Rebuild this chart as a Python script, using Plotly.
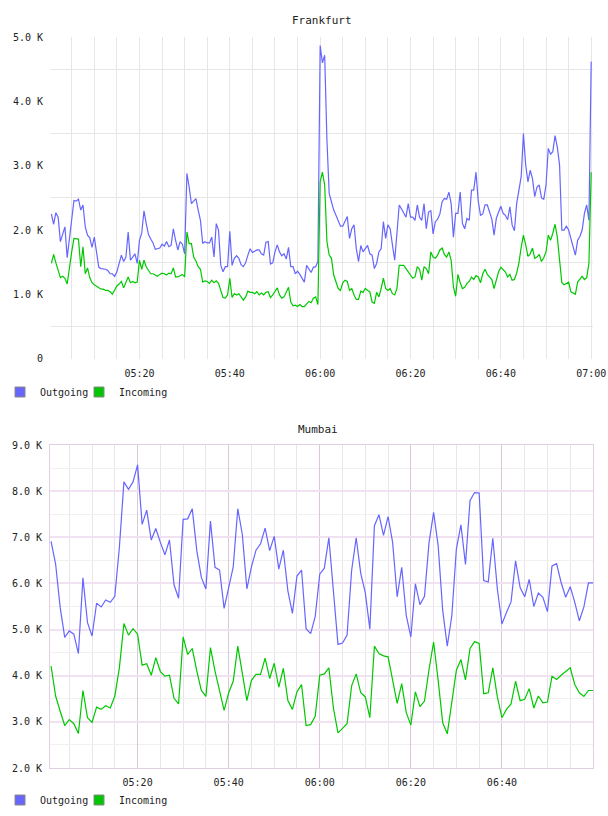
import plotly.graph_objects as go
import pandas as pd

# ---------------- data (values in K) ----------------
fra_out_k = [
    2.25, 2.09, 2.27, 2.20, 1.82, 1.92, 2.05, 1.57, 1.87, 2.20,
    2.46, 2.45, 2.48, 2.31, 2.39, 2.05, 1.92, 1.88, 1.73, 1.89,
    1.61, 1.42, 1.40, 1.40, 1.39, 1.37, 1.32, 1.32, 1.28, 1.35,
    1.50, 1.61, 1.51, 1.58, 1.97, 1.53, 1.58, 1.63, 1.48, 1.84,
    1.95, 2.30, 2.10, 1.93, 1.86, 1.80, 1.70, 1.71, 1.72, 1.78,
    1.75, 1.82, 1.74, 1.76, 2.02, 1.84, 1.69, 1.82, 1.78, 1.63,
    2.88, 2.67, 2.41, 2.45, 2.49, 2.31, 2.15, 1.79, 1.82, 1.80,
    1.80, 1.89, 1.58, 2.10, 2.00, 1.45, 1.35, 1.43, 1.43, 1.98,
    1.45, 1.56, 1.60, 1.56, 1.46, 1.43, 1.49, 1.61, 1.71, 1.65,
    1.67, 1.69, 1.69, 1.63, 1.61, 1.81, 1.82, 1.47, 1.49, 1.66,
    1.77, 1.66, 1.60, 1.63, 1.55, 1.73, 1.43, 1.43, 1.32, 1.36,
    1.31, 1.26, 1.19, 1.45, 1.40, 1.34, 1.42, 1.43, 1.51, 4.87,
    4.60, 4.72, 3.40, 2.57, 2.44, 2.31, 2.23, 2.13, 2.06, 2.06,
    2.14, 2.21, 1.87, 2.02, 2.08, 1.71, 1.51, 1.76, 1.66, 1.71,
    1.76, 1.63, 1.61, 1.40, 1.48, 1.66, 1.71, 2.13, 1.87, 2.08,
    2.02, 1.77, 1.53, 1.95, 2.39, 2.33, 2.26, 2.20, 2.41, 2.20,
    2.20, 2.15, 2.39, 2.20, 2.15, 2.41, 2.02, 2.28, 2.30, 1.94,
    2.13, 2.17, 2.25, 2.44, 2.49, 2.48, 2.59, 2.41, 1.89, 2.26,
    2.26, 2.59, 2.10, 2.02, 2.18, 2.15, 2.62, 2.62, 2.90, 2.45,
    2.23, 2.25, 2.39, 2.39, 2.28, 2.17, 1.92, 2.18, 2.28, 2.37,
    2.26, 2.23, 2.16, 2.36, 2.08, 1.99, 2.41, 2.65, 2.83, 3.50,
    3.01, 2.75, 2.93, 2.80, 2.52, 2.67, 2.70, 2.50, 2.48, 2.70,
    3.27, 3.18, 3.22, 3.47, 3.29, 3.01, 2.00, 2.00, 2.06, 2.00,
    1.88, 1.76, 1.61, 1.84, 1.90, 2.00, 2.26, 2.39, 2.15, 4.62,
]
fra_in_k = [
    1.48, 1.62, 1.49, 1.36, 1.26, 1.28, 1.25, 1.16, 1.43, 1.66,
    1.87, 1.87, 1.86, 1.43, 1.74, 1.32, 1.41, 1.26, 1.18, 1.15,
    1.13, 1.11, 1.08, 1.08, 1.06, 1.06, 1.04, 1.00, 1.06, 1.13,
    1.16, 1.20, 1.10, 1.18, 1.27, 1.18, 1.20, 1.18, 1.19, 1.53,
    1.39, 1.53, 1.43, 1.37, 1.32, 1.32, 1.30, 1.28, 1.31, 1.33,
    1.32, 1.30, 1.33, 1.32, 1.41, 1.27, 1.27, 1.29, 1.31, 1.27,
    1.97, 1.79, 1.79, 1.58, 1.52, 1.43, 1.39, 1.19, 1.21, 1.20,
    1.17, 1.22, 1.18, 1.21, 1.17, 1.06, 0.95, 0.94, 0.99, 1.25,
    0.95, 1.01, 0.99, 1.01, 0.96, 0.91, 0.96, 1.05, 1.03, 1.03,
    1.01, 1.04, 0.99, 1.02, 0.99, 1.03, 1.04, 0.95, 0.99, 1.05,
    1.10, 0.99, 0.94, 0.96, 1.05, 1.11, 0.88, 0.82, 0.83, 0.81,
    0.84, 0.81, 0.81, 0.86, 0.89, 0.87, 0.94, 0.96, 0.84, 2.75,
    2.90, 2.70, 1.82, 1.61, 1.56, 1.30, 1.18, 1.09, 1.06, 1.18,
    1.22, 1.20, 1.06, 1.09, 0.99, 0.92, 0.92, 1.05, 1.03, 1.09,
    1.06, 1.04, 0.88, 0.86, 1.03, 0.96, 1.09, 1.25, 1.09, 1.06,
    1.09, 1.01, 0.99, 1.09, 1.45, 1.45, 1.45, 1.40, 1.35, 1.32,
    1.25, 1.27, 1.43, 1.39, 1.22, 1.43, 1.40, 1.32, 1.66, 1.58,
    1.56, 1.61, 1.69, 1.72, 1.62, 1.58, 1.66, 1.53, 1.12, 0.97,
    1.31, 1.18, 1.09, 1.11, 1.17, 1.20, 1.27, 1.23, 1.29, 1.27,
    1.18, 1.32, 1.39, 1.31, 1.27, 1.23, 1.09, 1.23, 1.35, 1.42,
    1.39, 1.35, 1.27, 1.31, 1.22, 1.23, 1.33, 1.49, 1.73, 1.92,
    1.77, 1.59, 1.63, 1.72, 1.56, 1.58, 1.62, 1.51, 1.57, 1.66,
    1.92, 1.84, 1.95, 2.09, 1.89, 1.53, 1.18, 1.15, 1.17, 1.19,
    1.04, 1.02, 1.00, 1.19, 1.23, 1.28, 1.23, 1.26, 1.48, 2.90,
]
mum_out_k = [
    6.91, 6.42, 5.48, 4.83, 4.97, 4.90, 4.48, 6.12, 5.15, 4.86,
    5.57, 5.49, 5.64, 5.59, 5.72, 6.78, 8.20, 8.04, 8.20, 8.57,
    7.28, 7.59, 6.94, 7.19, 6.89, 6.62, 6.94, 5.97, 5.68, 7.39,
    7.40, 7.62, 6.71, 6.13, 5.88, 7.35, 6.35, 6.29, 5.46, 5.88,
    6.36, 7.62, 7.06, 5.88, 6.36, 6.72, 6.86, 7.20, 6.71, 7.02,
    6.31, 6.72, 5.84, 5.35, 6.16, 6.29, 5.02, 4.91, 5.28, 6.20,
    6.33, 6.99, 5.84, 4.68, 4.71, 4.88, 6.28, 6.99, 6.22, 5.80,
    5.01, 7.25, 7.49, 7.04, 7.45, 6.89, 5.71, 6.35, 5.30, 4.84,
    5.99, 5.54, 5.72, 6.89, 7.54, 6.82, 5.41, 4.64, 5.30, 6.75,
    7.27, 6.41, 7.80, 7.97, 7.96, 6.06, 6.03, 6.98, 5.88, 5.12,
    5.37, 5.60, 6.49, 5.91, 5.71, 6.09, 5.50, 5.79, 5.70, 5.39,
    6.38, 6.43, 6.02, 5.70, 5.93, 5.59, 5.19, 5.49, 6.01, 6.01,
]
mum_in_k = [
    4.21, 3.56, 3.23, 2.92, 3.05, 2.96, 2.75, 3.68, 3.09, 2.99,
    3.32, 3.27, 3.35, 3.30, 3.56, 4.17, 5.13, 4.88, 5.02, 4.90,
    4.23, 4.26, 4.01, 4.39, 4.09, 3.99, 4.01, 3.51, 3.39, 4.84,
    4.46, 4.59, 4.10, 3.68, 3.55, 4.61, 4.10, 3.70, 3.25, 3.63,
    3.88, 4.64, 4.07, 3.46, 3.90, 4.03, 4.03, 4.38, 3.94, 4.27,
    3.75, 4.16, 3.46, 3.27, 3.65, 3.81, 2.92, 2.94, 3.12, 4.01,
    4.04, 4.17, 3.30, 2.76, 2.86, 2.96, 3.78, 4.04, 3.63, 3.54,
    3.09, 4.64, 4.48, 4.43, 4.41, 3.90, 3.40, 3.83, 3.20, 2.93,
    3.65, 3.33, 3.45, 4.14, 4.73, 3.90, 2.98, 2.74, 3.38, 4.12,
    4.35, 3.91, 4.59, 4.74, 4.70, 3.61, 3.63, 4.17, 3.54, 3.09,
    3.27, 3.39, 3.88, 3.46, 3.49, 3.72, 3.30, 3.56, 3.41, 3.43,
    3.99, 3.92, 4.01, 4.09, 4.17, 3.81, 3.63, 3.55, 3.68, 3.68,
]

day = "2024-01-01"
fra_times = pd.date_range(f"{day} 05:00:30", periods=len(fra_out_k), freq="30s")
mum_times = pd.date_range(f"{day} 05:01:00", periods=len(mum_out_k), freq="60s")

fra_out = [v * 1000 for v in fra_out_k]
fra_in = [v * 1000 for v in fra_in_k]
mum_out = [v * 1000 for v in mum_out_k]
mum_in = [v * 1000 for v in mum_in_k]

series_names = ["Outgoing", "Incoming"]
series_colors = ["#6666ff", "#00c800"]
chart_titles = ["Frankfurt", "Mumbai"]

x_tick_text_top = ["05:20", "05:40", "06:00", "06:20", "06:40", "07:00"]
x_tick_text_bot = ["05:20", "05:40", "06:00", "06:20", "06:40"]
y_ticks_top = [0, 1000, 2000, 3000, 4000, 5000]
y_text_top = ["0", "1.0 K", "2.0 K", "3.0 K", "4.0 K", "5.0 K"]
y_ticks_bot = [2000, 3000, 4000, 5000, 6000, 7000, 8000, 9000]
y_text_bot = ["2.0 K", "3.0 K", "4.0 K", "5.0 K", "6.0 K", "7.0 K", "8.0 K", "9.0 K"]

# ---------------- figure ----------------
W, H = 608, 816
FONT = "DejaVu Sans Mono"
TXT = "#222222"

fig = go.Figure()
legend_widths = [34, 60]

def add_series(times, out_vals, in_vals, xa, ya, legend):
    for vals, name, col in zip([out_vals, in_vals], series_names, series_colors):
        fig.add_trace(go.Scatter(x=times, y=vals, mode="lines", name=name,
                                 line=dict(color=col, width=1.2),
                                 xaxis=xa, yaxis=ya, showlegend=False,
                                 hoverinfo="skip"))
    for name, col, lw in zip(series_names, series_colors, legend_widths):
        fig.add_trace(go.Scatter(x=[None], y=[None], mode="markers", name=name,
                                 marker=dict(symbol="square", size=10, color=col,
                                             line=dict(color="#888888", width=1)),
                                 xaxis=xa, yaxis=ya, legend=legend, showlegend=True,
                                 legendwidth=lw))

add_series(fra_times, fra_out, fra_in, "x", "y", "legend")
add_series(mum_times, mum_out, mum_in, "x2", "y2", "legend2")

def px_x(p):
    return p / W

def px_y(p):
    return 1 - p / H

tick_times_top = [f"{day} {t}:00" for t in x_tick_text_top]
tick_times_bot = [f"{day} {t}:00" for t in x_tick_text_bot]

tickfont = dict(family=FONT, size=10, color=TXT)
five_min = 5 * 60 * 1000

fig.update_layout(
    template="none",
    width=W, height=H,
    margin=dict(l=0, r=0, t=0, b=0, autoexpand=False),
    paper_bgcolor="white", plot_bgcolor="white",
    font=dict(family=FONT, size=10, color=TXT),
    xaxis=dict(
        domain=[px_x(51), px_x(593)], anchor="y", automargin=False,
        range=[f"{day} 05:00:25", f"{day} 07:00:24"],
        tickmode="array", tickvals=tick_times_top, ticktext=x_tick_text_top,
        showgrid=True, gridcolor="#e6e6e6", gridwidth=1,
        minor=dict(dtick=five_min, tick0=f"{day} 05:00:00", showgrid=True,
                   gridcolor="#e6e6e6", gridwidth=1),
        showline=False, zeroline=False,
        ticks="outside", ticklen=5, tickcolor="rgba(0,0,0,0)",
        tickfont=tickfont,
    ),
    yaxis=dict(
        domain=[px_y(358.6), px_y(37.2)], anchor="x", automargin=False,
        range=[0, 5000],
        tickmode="array", tickvals=y_ticks_top, ticktext=y_text_top,
        showgrid=False,
        minor=dict(tickmode="array", tickvals=[500, 1500, 2500, 3500, 4500],
                   showgrid=True, gridcolor="#e6e6e6", gridwidth=1),
        showline=False, zeroline=False,
        ticks="outside", ticklen=5, tickcolor="rgba(0,0,0,0)",
        tickfont=tickfont,
    ),
    xaxis2=dict(
        domain=[px_x(50), px_x(593)], anchor="y2", automargin=False,
        range=[f"{day} 05:00:46", f"{day} 07:00:00"],
        tickmode="array", tickvals=tick_times_bot, ticktext=x_tick_text_bot,
        showgrid=True, gridcolor="#dcc6dc", gridwidth=1,
        minor=dict(dtick=five_min, tick0=f"{day} 05:00:00", showgrid=True,
                   gridcolor="#ebe2eb", gridwidth=1),
        showline=True, mirror=True, linecolor="#e2cfe2", linewidth=1,
        zeroline=False,
        ticks="outside", ticklen=5, tickcolor="rgba(0,0,0,0)",
        tickfont=tickfont,
    ),
    yaxis2=dict(
        domain=[px_y(768), px_y(445)], anchor="x2", automargin=False,
        range=[2000, 9000],
        tickmode="array", tickvals=y_ticks_bot, ticktext=y_text_bot,
        showgrid=True, gridcolor="#f0e2f0", gridwidth=2,
        minor=dict(tickmode="array",
                   tickvals=[2500, 3500, 4500, 5500, 6500, 7500, 8500],
                   showgrid=True, gridcolor="#f0f0f0", gridwidth=1),
        showline=True, mirror=True, linecolor="#e2cfe2", linewidth=1,
        zeroline=False,
        ticks="outside", ticklen=5, tickcolor="rgba(0,0,0,0)",
        tickfont=tickfont,
    ),
    legend=dict(orientation="h", x=0, xanchor="left", y=px_y(392), yanchor="middle",
                font=dict(family=FONT, size=10, color=TXT),
                bgcolor="rgba(0,0,0,0)", itemwidth=30,
                itemclick=False, itemdoubleclick=False),
    legend2=dict(orientation="h", x=0, xanchor="left", y=px_y(800), yanchor="middle",
                 font=dict(family=FONT, size=10, color=TXT),
                 bgcolor="rgba(0,0,0,0)", itemwidth=30,
                 itemclick=False, itemdoubleclick=False),
    annotations=[
        dict(text=chart_titles[0], x=px_x(322), y=px_y(20), xref="paper", yref="paper",
             xanchor="center", yanchor="middle", showarrow=False,
             font=dict(family=FONT, size=11, color=TXT)),
        dict(text=chart_titles[1], x=px_x(318), y=px_y(429), xref="paper", yref="paper",
             xanchor="center", yanchor="middle", showarrow=False,
             font=dict(family=FONT, size=11, color=TXT)),
    ],
)

fig.write_html("out.html")
